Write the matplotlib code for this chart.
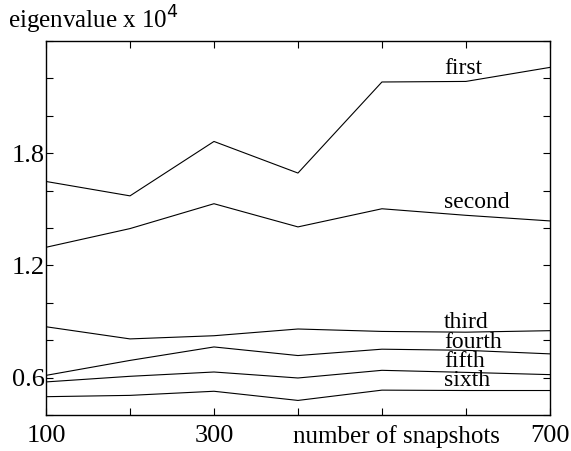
import matplotlib.pyplot as plt

plt.rcParams['font.family'] = ['Liberation Serif', 'DejaVu Serif']

snapshots = [100, 200, 300, 400, 500, 600, 700]
first = [1.649, 1.572, 1.863, 1.694, 2.181, 2.184, 2.259]
second = [1.297, 1.397, 1.530, 1.406, 1.503, 1.468, 1.438]
third = [0.872, 0.807, 0.824, 0.860, 0.847, 0.843, 0.851]
fourth = [0.612, 0.692, 0.764, 0.718, 0.752, 0.746, 0.727]
fifth = [0.577, 0.607, 0.630, 0.598, 0.639, 0.628, 0.616]
sixth = [0.498, 0.505, 0.527, 0.478, 0.533, 0.531, 0.531]

series = [first, second, third, fourth, fifth, sixth]
names = ['first', 'second', 'third', 'fourth', 'fifth', 'sixth']
# label anchor (x, baseline y) in data units
label_x = 574
label_y = [2.222, 1.507, 0.865, 0.759, 0.655, 0.555]

fig = plt.figure(figsize=(5.71, 4.51), dpi=100)
ax = fig.add_axes([0.0806, 0.0798, 0.8824, 0.8292])

for vals in series:
    ax.plot(snapshots, vals, color='black', lw=0.8)

for name, ly in zip(names, label_y):
    ax.text(label_x, ly, name, fontsize=17, va='baseline', ha='left')

ax.set_xlim(100, 700)
ax.set_ylim(0.4, 2.4)
ax.set_xticks(snapshots)
ax.set_xticklabels(['100', '', '300', '', '', '', '700'])
ax.set_yticks([0.4, 0.6, 0.8, 1.0, 1.2, 1.4, 1.6, 1.8, 2.0, 2.2, 2.4])
ax.set_yticklabels(['', '0.6', '', '', '1.2', '', '', '1.8', '', '', ''])
ax.tick_params(direction='in', top=True, right=True, length=5, width=0.8,
               labelsize=19)
ax.tick_params(axis='x', pad=7)
ax.tick_params(axis='y', pad=1)
for sp in ax.spines.values():
    sp.set_linewidth(1.0)

ax.annotate('number of snapshots', xy=(517, 0), xycoords=('data', 'axes fraction'),
            xytext=(0, -7), textcoords='offset points', ha='center', va='top',
            fontsize=18)

fig.text(8 / 571, 1 - 29 / 451, r'eigenvalue x 10$^4$', fontsize=18,
         va='baseline', ha='left')

fig.savefig('out.png')
